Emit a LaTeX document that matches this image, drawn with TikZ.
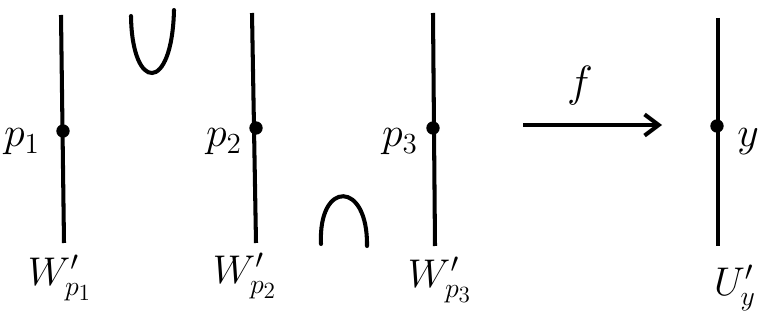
\documentclass[tikz,border=0pt]{standalone}
\usepackage{amssymb, amsmath}
\usepackage{tikz}
\usetikzlibrary{arrows.meta}

\begin{document}
\begin{tikzpicture}[x=0.02cm, y=-0.02cm, line width=2.3pt,
    lbl/.style={font=\huge, inner sep=0pt}]

  \useasboundingbox (0, 0) rectangle (764, 324);

  % the three sheets over U'_y
  \coordinate (topa) at (61, 15);
  \coordinate (bota) at (64, 243);
  \coordinate (topb) at (252, 13);
  \coordinate (botb) at (256, 243);
  \coordinate (topc) at (433, 13);
  \coordinate (botc) at (435, 246);
  \coordinate (topd) at (718, 18);
  \coordinate (botd) at (718, 246);

  \draw (topa) -- (bota);
  \draw (topb) -- (botb);
  \draw (topc) -- (botc);
  \draw (topd) -- (botd);

  \fill (63, 131) circle (3.8pt) coordinate (pa);
  \fill (256, 128) circle (3.8pt) coordinate (pb);
  \fill (433, 128) circle (3.8pt) coordinate (pc);
  \fill (717, 126) circle (3.8pt) coordinate (py);

  \node[lbl, scale=1.15] (labpa) at (22, 142) { $p_{1}$ };
  \node[lbl, scale=1.15] (labpb) at (224, 142) { $p_{2}$ };
  \node[lbl, scale=1.15] (labpc) at (400, 142) { $p_{3}$ };
  \node[lbl, scale=1.15] (labpy) at (748, 142) { $y$ };

  \node[lbl, scale=1.1] (wa) at (60, 278) { $W'_{p_{1}}$ };
  \node[lbl, scale=1.1] (wb) at (245, 276) { $W'_{p_{2}}$ };
  \node[lbl, scale=1.1] (wc) at (440, 280) { $W'_{p_{3}}$ };
  \node[lbl, scale=1.1] (uy) at (735, 288) { $U'_{y}$ };

  % union and intersection marks
  \draw[line cap=round] (131, 16) .. controls (132, 92) and (172, 94) .. (174, 10);
  \draw[line cap=round] (321, 244) .. controls (318, 180) and (368, 180) .. (367, 246);

  % the map
  \coordinate (fa) at (523, 125);
  \coordinate (fb) at (662, 125);
  \draw[-{Straight Barb[length=8pt, width=12pt]}] (fa) -- (fb);
  \node[lbl, scale=1.2] (labf) at (580, 86) { $f$ };

\end{tikzpicture}
\end{document}
